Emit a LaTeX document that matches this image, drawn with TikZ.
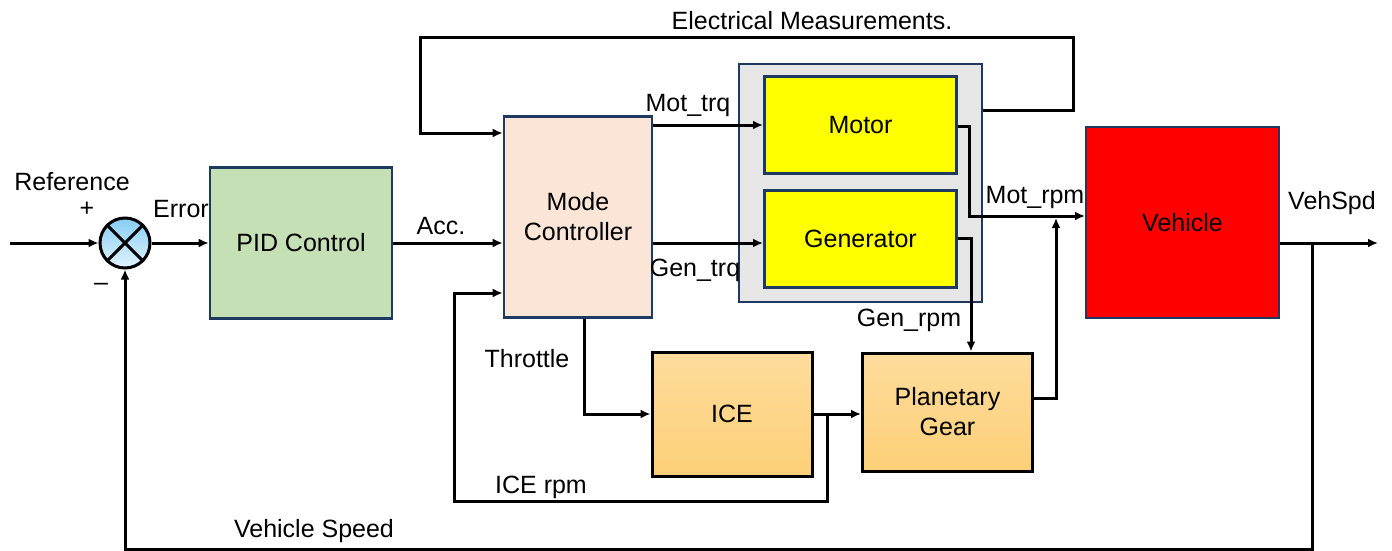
\documentclass[tikz,border=0pt]{standalone}
\usepackage{fontspec}
\setmainfont{Liberation Sans}
\usetikzlibrary{arrows.meta,calc}
\definecolor{navy}{HTML}{1F3A60}
\definecolor{pidgreen}{HTML}{C5E0B4}
\definecolor{modepink}{HTML}{FBE5D6}
\definecolor{graybg}{HTML}{E6E6E6}
\definecolor{yel}{HTML}{FFFF00}
\definecolor{vehred}{HTML}{FF0000}
\definecolor{orgtop}{HTML}{FEDC9C}
\definecolor{orgbot}{HTML}{FDD078}
\definecolor{sumtop}{HTML}{86CDF5}
\definecolor{sumbot}{HTML}{E2F3FD}
\tikzset{
  every node/.style={font=\fontsize{25}{30}\selectfont, inner sep=0pt},
  blk/.style={rectangle, draw=navy, line width=2.6pt, align=center},
  orgblk/.style={rectangle, draw=black, line width=3pt, align=center, top color=orgtop, bottom color=orgbot},
  arr/.style={line width=3pt, -{Latex[length=10pt,width=9pt]}},
  ln/.style={line width=3pt},
  lbl/.style={align=center},
  sumc/.style={circle, draw=black, line width=3pt, minimum size=50pt, top color=sumtop, bottom color=sumbot}
}
\begin{document}
\begin{tikzpicture}[x=1pt,y=-1pt]
\useasboundingbox (0,0) rectangle (1392,551);

% blocks
\node[sumc] (sum) at (125,243) {};
\draw[ln] (sum.north west) -- (sum.south east);
\draw[ln] (sum.north east) -- (sum.south west);
\node[blk, fill=pidgreen, minimum width=182pt, minimum height=151pt] (pid) at (301,243) {PID Control};
\node[blk, fill=modepink, minimum width=148pt, minimum height=201pt] (mode) at (578,217) {Mode\\Controller};
\node[blk, fill=graybg, minimum width=243pt, minimum height=238pt] (gray) at (860.5,183) {};
\node[blk, fill=yel, line width=3pt, minimum width=192pt, minimum height=96pt] (motor) at (860.5,125) {Motor};
\node[blk, fill=yel, line width=3pt, minimum width=192pt, minimum height=97pt] (gen) at (860.5,238.5) {Generator};
\node[blk, fill=vehred, line width=2pt, minimum width=193pt, minimum height=191pt] (veh) at (1182.5,222.5) {Vehicle};
\node[orgblk, minimum width=160pt, minimum height=124pt] (ice) at (732,414) {ICE};
\node[orgblk, minimum width=170pt, minimum height=118pt] (pg) at (947.5,412) {Planetary\\Gear};

% free ends
\coordinate (in) at (10,243);
\coordinate (out) at (1378,243);
\coordinate (pgup) at (1056,218);

% connectors
\draw[arr] (in) -- (sum.west);
\draw[arr] (sum.east) -- (sum.east -| pid.west);
\draw[arr] (pid.east) -- (pid.east -| mode.west);
\draw[arr] (motor.west -| mode.east) -- (motor.west);
\draw[arr] (pid.east -| mode.east) -- (pid.east -| gen.west);
\draw[arr] (gray.east |- 0,110) -| (1073,38) -| (420,133) -- (mode.west |- 0,133);
\draw[arr] (motor.east |- 0,126) -| (969,216) -- (veh.west |- 0,216);
\draw[arr] (gen.east |- 0,238) -| (pg.north -| 971,0);
\draw[arr] (pg.east |- 0,398) -| (pgup);
\draw[arr] (mode.south -| 584,0) |- (ice.west);
\draw[arr] (ice.east) -- (pg.west |- ice.east);
\draw[arr] (827,414) |- (454,501) |- (mode.west |- 0,293);
\draw[arr] (veh.east |- 0,243) -- (out);
\draw[arr] (1312,243) |- (125,549) -- (sum.south);

% labels
\node[lbl] (lref) at (72,182) {Reference};
\node[lbl] (lplus) at (87,209) {+};
\node[lbl] (lminus) at (101,287) {–};
\node[lbl] (lerr) at (181,209) {Error};
\node[lbl] (lacc) at (441,226) {Acc.};
\node[lbl] (lmt) at (688,105) {Mot\_trq};
\node[lbl] (lgt) at (695,270) {Gen\_trq};
\node[lbl] (lmr) at (1035,197) {Mot\_rpm};
\node[lbl] (lgr) at (909,320) {Gen\_rpm};
\node[lbl] (lvs) at (1332,203) {VehSpd};
\node[lbl] (lthr) at (527,359) {Throttle};
\node[lbl] (lice) at (541,487) {ICE rpm};
\node[lbl] (lspd) at (314,531) {Vehicle Speed};
\node[lbl] (lem) at (812,21) {Electrical Measurements.};
\end{tikzpicture}
\end{document}
